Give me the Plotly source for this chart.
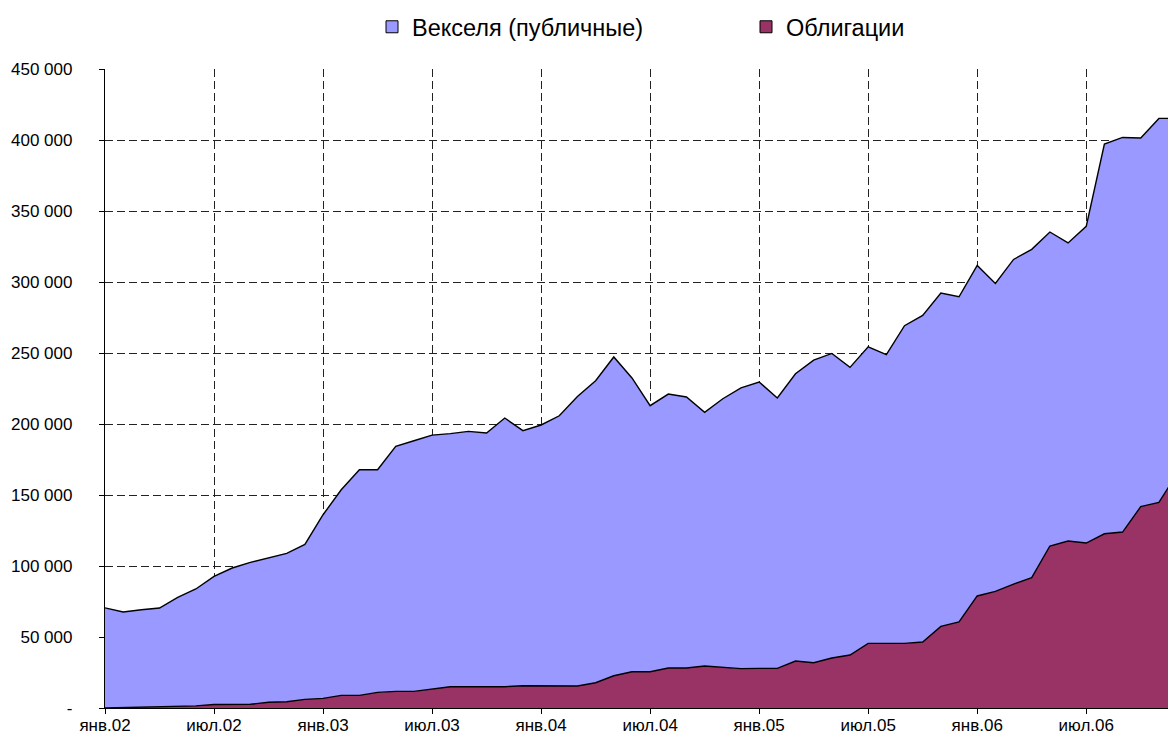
import plotly.graph_objects as go

months = ["янв", "фев", "мар", "апр", "май", "июн", "июл", "авг", "сен", "окт", "ноя", "дек"]
years = ["02", "03", "04", "05", "06"]
categories = [m + "." + y for y in years for m in months]

# Облигации (bottom layer)
bonds = [0, 300, 600, 900, 1200, 1500, 2500, 2500, 2600, 4000,
         4400, 6100, 6800, 8900, 8900, 11000, 11700, 11700, 13600, 15000,
         15000, 15000, 15000, 15700, 15500, 15500, 15500, 17800, 22700, 25500,
         25500, 28200, 28200, 29600, 28600, 27700, 27900, 27900, 33100, 31900,
         35200, 37300, 45500, 45500, 45500, 46500, 57500, 60600, 78900, 82100,
         87300, 91800, 114100, 117600, 116200, 122700, 123900, 141800, 144800, 165000]

# Векселя (публичные) (stacked on top)
bills = [70500, 67300, 68600, 69500, 76700, 82300, 90200, 96100, 100000, 101600,
         104500, 109100, 129300, 144800, 158900, 156800, 172500, 176500, 178600, 178200,
         179800, 178700, 189200, 179600, 183800, 190300, 203900, 212700, 224500, 206900,
         187400, 192900, 190800, 178600, 189200, 197700, 201700, 190400, 202300, 213100,
         214500, 202600, 208900, 203300, 223700, 230000, 234700, 229000, 232800, 216900,
         228600, 231200, 221100, 209900, 223000, 274500, 277900, 259600, 270400, 250200]

x_tick_labels = ["янв.02", "июл.02", "янв.03", "июл.03", "янв.04", "июл.04",
                 "янв.05", "июл.05", "янв.06", "июл.06"]
y_tick_vals = [0, 50000, 100000, 150000, 200000, 250000, 300000, 350000, 400000, 450000]
y_tick_labels = ["-", "50 000", "100 000", "150 000", "200 000", "250 000",
                 "300 000", "350 000", "400 000", "450 000"]

name_bills = "Векселя (публичные)"
name_bonds = "Облигации"
col_bills = "#9999FF"
col_bonds = "#993366"

idx = list(range(len(categories)))
x_tick_pos = [categories.index(t) for t in x_tick_labels]

fig = go.Figure()
fig.add_trace(go.Scatter(x=idx, y=bonds, name=name_bonds, stackgroup="s", mode="lines",
                         line=dict(color="black", width=1.4), fillcolor=col_bonds,
                         showlegend=False, text=categories, hoverinfo="text+y"))
fig.add_trace(go.Scatter(x=idx, y=bills, name=name_bills, stackgroup="s", mode="lines",
                         line=dict(color="black", width=1.4), fillcolor=col_bills,
                         showlegend=False, text=categories, hoverinfo="text+y"))
# legend entries
for nm, col in [(name_bills, col_bills), (name_bonds, col_bonds)]:
    fig.add_trace(go.Scatter(x=[None], y=[None], name=nm, mode="markers",
                             marker=dict(symbol="square", size=12, color=col,
                                         line=dict(color="black", width=1))))

fig.update_layout(
    width=1168, height=743,
    margin=dict(l=105, r=0, t=69, b=35),
    paper_bgcolor="white", plot_bgcolor="white",
    font=dict(family="Liberation Sans, Arial, sans-serif", size=17, color="black"),
    showlegend=True,
    legend=dict(orientation="h", xref="container", yref="container", traceorder="normal",
                x=372/1168, xanchor="left", y=1-27/743, yanchor="middle",
                font=dict(size=23.5), entrywidth=329, entrywidthmode="pixels",
                itemwidth=30, bgcolor="rgba(0,0,0,0)"),
    xaxis=dict(range=[0, 58.5], tickmode="array", tickvals=x_tick_pos, ticktext=x_tick_labels,
               showgrid=True, gridcolor="#222222", gridwidth=1, griddash="8px,4px",
               showline=True, linecolor="black", linewidth=1.3,
               ticks="outside", ticklen=5, tickcolor="black", zeroline=False,
               ticklabelstandoff=-4),
    yaxis=dict(range=[0, 450000], tickmode="array", tickvals=y_tick_vals, ticktext=y_tick_labels,
               showgrid=True, gridcolor="#222222", gridwidth=1, griddash="8px,4px",
               showline=True, linecolor="black", linewidth=1.3,
               ticks="outside", ticklen=5, tickcolor="black", zeroline=False,
               ticklabelstandoff=23),
)

fig.write_html("out.html", config={"displayModeBar": False},
               post_script="document.body.style.margin='0';document.body.style.overflow='hidden';")
